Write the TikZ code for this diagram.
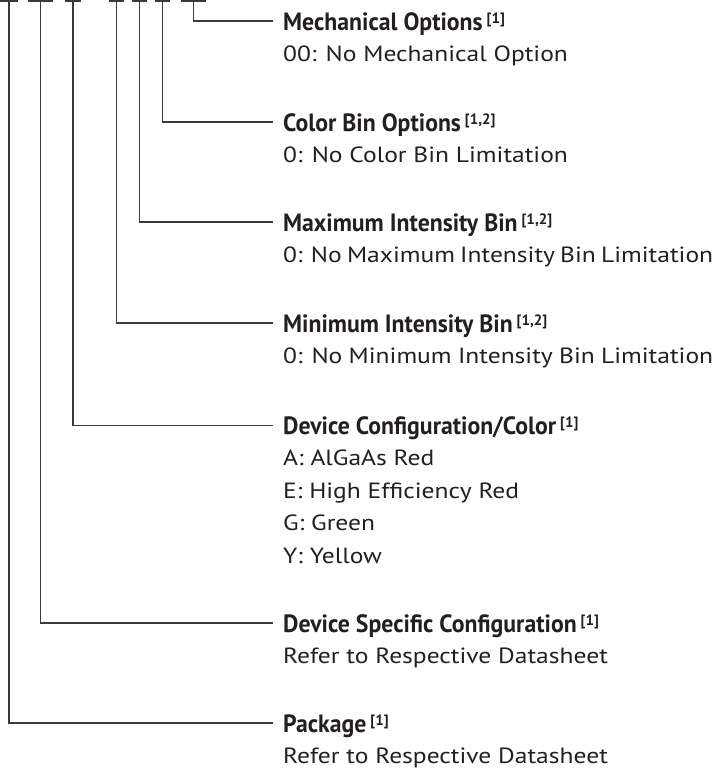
\documentclass[tikz,border=0pt]{standalone}
\usepackage{fontspec}
\setmainfont[FakeStretch=1.16]{PT Sans}
\newfontfamily\headfont[FakeStretch=0.95]{PT Sans}
\newfontfamily\notefont{PT Sans}
\usepackage{tikz}
\definecolor{txtblack}{HTML}{231F20}
\definecolor{rulegray}{HTML}{3A3A3A}
\newcommand{\notemark}[1]{\hspace{4pt}\raisebox{7pt}{\notefont\bfseries\fontsize{15}{15}\selectfont[#1]}}
\newcommand{\pnslot}[3]{%
  \coordinate (#1) at (#2,1);
  \draw[conn] (#2-#3,1) -- (#2+#3,1);}
\newcommand{\pnfield}[6]{%
  \node[head] (#1) at (273,#3) {#4\notemark{#5}};
  \node[desc] (#1d) at (283,#3+40) {\parbox[t]{430pt}{#6}};
  \draw[conn] (#2) |- (#1.west);}

\begin{document}
\begin{tikzpicture}[x=1pt,y=-1pt,
    conn/.style={rulegray,line width=1.3pt},
    head/.style={anchor=west,inner xsep=10pt,inner ysep=0pt,text height=18pt,
      text depth=0pt,text=txtblack,font=\headfont\bfseries\fontsize{25}{30}\selectfont},
    desc/.style={anchor=base west,inner sep=0pt,text=txtblack,
      font=\fontsize{22}{32.5}\selectfont}]
  \useasboundingbox (0,0) rectangle (722,772);
  % part number slots
  \pnslot{s1}{9}{9}
  \pnslot{s2}{40.5}{12.5}
  \pnslot{s3}{73}{8}
  \pnslot{s4}{116.5}{7.5}
  \pnslot{s5}{139.5}{7.5}
  \pnslot{s6}{162.5}{7.5}
  \pnslot{s7}{193.5}{12.5}
  % fields
  \pnfield{mech}{s7}{21}{Mechanical Options}{1}{00: No Mechanical Option}
  \pnfield{colbin}{s6}{122}{Color Bin Options}{1,2}{0: No Color Bin Limitation}
  \pnfield{maxbin}{s5}{222}{Maximum Intensity Bin}{1,2}{0: No Maximum Intensity Bin Limitation}
  \pnfield{minbin}{s4}{323}{Minimum Intensity Bin}{1,2}{0: No Minimum Intensity Bin Limitation}
  \pnfield{devcol}{s3}{425.5}{Device Configuration/Color}{1}{A: AlGaAs Red\\E: High Efficiency Red\\G: Green\\Y: Yellow}
  \pnfield{devspec}{s2}{623}{Device Specific Configuration}{1}{Refer to Respective Datasheet}
  \pnfield{pkg}{s1}{723}{Package}{1}{Refer to Respective Datasheet}
\end{tikzpicture}
\end{document}
